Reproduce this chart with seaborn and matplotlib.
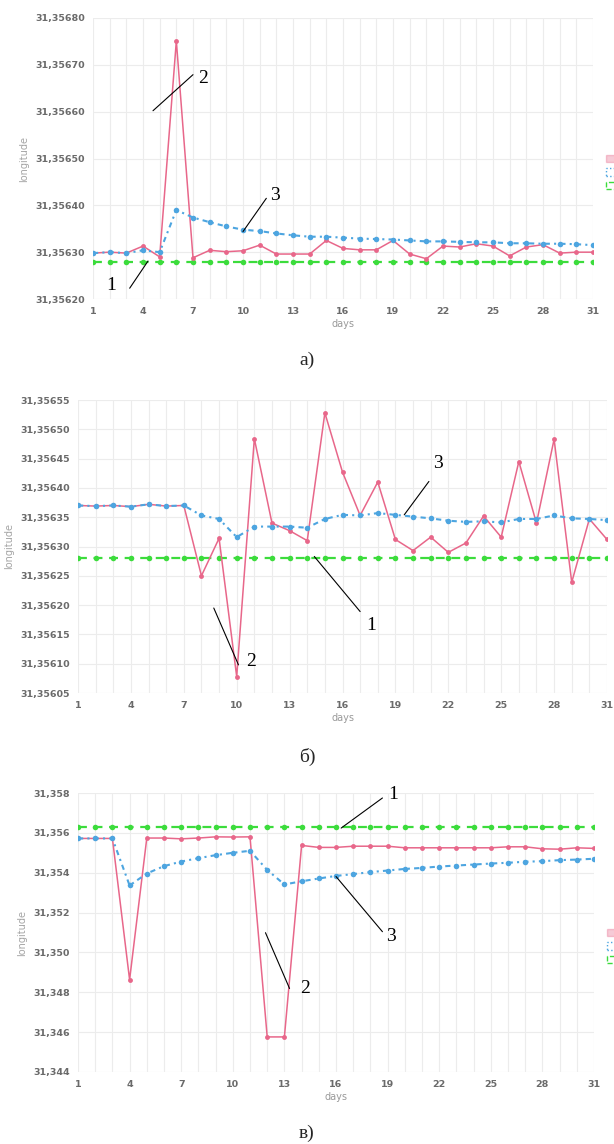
import matplotlib
matplotlib.use("Agg")
from matplotlib import pyplot as plt
from matplotlib.ticker import FuncFormatter
from matplotlib.patches import Patch
import numpy as np
import pandas as pd
import seaborn as sns

# ---- data ----
days = list(range(1, 32))

a_measured = [31.356298, 31.356300, 31.356298, 31.356313, 31.356290, 31.356751, 31.356288,
              31.356304, 31.356301, 31.356303, 31.356315, 31.356296, 31.356296, 31.356296,
              31.356325, 31.356308, 31.356305, 31.356305, 31.356325, 31.356296, 31.356286,
              31.356313, 31.356311, 31.356318, 31.356313, 31.356292, 31.356311, 31.356316,
              31.356298, 31.356300, 31.356300]
a_filtered = [31.356298, 31.356300, 31.356298, 31.356304, 31.356300, 31.356390, 31.356374,
              31.356364, 31.356355, 31.356348, 31.356345, 31.356340, 31.356336, 31.356333,
              31.356333, 31.356331, 31.356329, 31.356328, 31.356327, 31.356325, 31.356323,
              31.356323, 31.356322, 31.356321, 31.356321, 31.356319, 31.356319, 31.356318,
              31.356318, 31.356317, 31.356315]
a_reference = [31.356278] * 31

b_measured = [31.356370, 31.356369, 31.356370, 31.356368, 31.356372, 31.356369, 31.356370,
              31.356250, 31.356314, 31.356078, 31.356484, 31.356340, 31.356327, 31.356310,
              31.356528, 31.356427, 31.356353, 31.356410, 31.356312, 31.356293, 31.356316,
              31.356290, 31.356306, 31.356352, 31.356316, 31.356445, 31.356340, 31.356483,
              31.356239, 31.356347, 31.356312]
b_filtered = [31.356370, 31.356369, 31.356370, 31.356368, 31.356372, 31.356369, 31.356370,
              31.356353, 31.356347, 31.356316, 31.356334, 31.356334, 31.356334, 31.356332,
              31.356347, 31.356354, 31.356353, 31.356357, 31.356354, 31.356351, 31.356348,
              31.356344, 31.356342, 31.356343, 31.356341, 31.356347, 31.356347, 31.356353,
              31.356348, 31.356347, 31.356345]
b_reference = [31.356280] * 31

c_measured = [31.35572, 31.35572, 31.35572, 31.34863, 31.35574, 31.35574, 31.35570,
              31.35574, 31.35580, 31.35579, 31.35580, 31.34576, 31.34576, 31.35537,
              31.35527, 31.35527, 31.35533, 31.35533, 31.35533, 31.35525, 31.35525,
              31.35525, 31.35525, 31.35525, 31.35525, 31.35530, 31.35530, 31.35520,
              31.35518, 31.35525, 31.35522]
c_filtered = [31.35572, 31.35572, 31.35572, 31.35336, 31.35396, 31.35433, 31.35456,
              31.35473, 31.35488, 31.35500, 31.35510, 31.35414, 31.35341, 31.35357,
              31.35371, 31.35384, 31.35393, 31.35403, 31.35411, 31.35419, 31.35424,
              31.35431, 31.35436, 31.35441, 31.35446, 31.35450, 31.35455, 31.35458,
              31.35463, 31.35466, 31.35470]
c_reference = [31.35629] * 31

captions = ["а)", "б)", "в)"]
x_ticklabel_days = list(range(1, 32, 3))

# annotation number, text position (day, value), leader line start, leader line end
a_notes = [("2", (7.6, 31.356670), (7.0, 31.356679), (4.6, 31.356602)),
           ("3", (11.9, 31.356422), (11.4, 31.356415), (10.0, 31.356344)),
           ("1", (2.1, 31.356228), (3.2, 31.356223), (4.3, 31.356281))]
b_notes = [("3", (21.4, 31.356441), (20.9, 31.356411), (19.5, 31.356354)),
           ("1", (17.6, 31.356166), (17.0, 31.356189), (14.4, 31.356283)),
           ("2", (10.8, 31.356104), (10.1, 31.356098), (8.7, 31.356195))]
c_notes = [("1", (19.3, 31.35792), (18.7, 31.35775), (16.3, 31.35624)),
           ("3", (19.2, 31.35079), (18.7, 31.35104), (16.0, 31.35381)),
           ("2", (14.2, 31.34819), (13.3, 31.34819), (11.9, 31.35099))]

RED = "#e8678a"
BLUE = "#4da5e0"
GREEN = "#3cdc3c"


def comma_fmt(decimals):
    return FuncFormatter(lambda v, pos: f"{v:.{decimals}f}".replace(".", ","))


def draw_panel(ax, measured, filtered, reference, ylim, ystep, decimals, notes):
    df = pd.DataFrame({"days": days, "measured": measured,
                       "filtered": filtered, "reference": reference})
    sns.lineplot(data=df, x="days", y="reference", ax=ax, color=GREEN, lw=1.6,
                 linestyle=(0, (4, 3)), marker="o", markersize=4, markeredgewidth=0)
    sns.lineplot(data=df, x="days", y="measured", ax=ax, color=RED, lw=1.1,
                 marker="o", markersize=3.5, markeredgewidth=0)
    sns.lineplot(data=df, x="days", y="filtered", ax=ax, color=BLUE, lw=1.5,
                 linestyle=(0, (2.5, 2, 1, 2)), marker="o", markersize=4, markeredgewidth=0)

    ax.set_xlim(1, 31)
    ax.set_ylim(*ylim)
    ax.set_xticks(days)
    ax.set_xticklabels([str(d) if d in x_ticklabel_days else "" for d in days])
    ax.set_yticks(np.arange(ylim[0], ylim[1] + ystep / 2, ystep))
    ax.yaxis.set_major_formatter(comma_fmt(decimals))
    ax.tick_params(axis="both", length=3, color="#e6e6e6", labelsize=6.8,
                   labelcolor="#6a6a6a", pad=3)
    for lab in ax.get_xticklabels() + ax.get_yticklabels():
        lab.set_fontweight("bold")
    ax.grid(True, color="#ececec", lw=0.8)
    for s in ax.spines.values():
        s.set_visible(False)
    ax.set_xlabel("days", fontsize=7, color="#9a9a9a", labelpad=2)
    ax.set_ylabel("longitude", fontsize=7, color="#a5a5a5", labelpad=4)

    for label, txt_pos, start, end in notes:
        ax.annotate("", xy=end, xytext=start,
                    arrowprops=dict(arrowstyle="-", color="black", lw=0.8,
                                    shrinkA=0, shrinkB=0))
        ax.text(*txt_pos, label, fontsize=14, family="Liberation Serif",
                ha="center", va="center", color="black")

    # legend sits at the right edge; only the colour boxes show in the reference
    handles = [Patch(facecolor=RED, alpha=0.35, edgecolor=RED),
               Patch(facecolor="white", edgecolor=BLUE, linestyle=":"),
               Patch(facecolor="white", edgecolor=GREEN, linestyle="--")]
    ax.legend(handles, ["", "", ""], loc="center left",
              bbox_to_anchor=(1.008, 0.45), frameon=False, fontsize=7,
              handlelength=1.6, handleheight=0.8, labelspacing=0.35)


sns.set_style("white")
plt.rcParams["font.family"] = ["DejaVu Sans"]

fig = plt.figure(figsize=(6.14, 11.44), dpi=100)
ax_a = fig.add_axes([93 / 614, 1 - 299 / 1144, 500 / 614, 281 / 1144])
ax_b = fig.add_axes([78 / 614, 1 - 693 / 1144, 529 / 614, 293 / 1144])
ax_c = fig.add_axes([78 / 614, 1 - 1072 / 1144, 516 / 614, 279 / 1144])

draw_panel(ax_a, a_measured, a_filtered, a_reference, (31.3562, 31.3568), 0.0001, 5, a_notes)
draw_panel(ax_b, b_measured, b_filtered, b_reference, (31.35605, 31.35655), 0.00005, 5, b_notes)
draw_panel(ax_c, c_measured, c_filtered, c_reference, (31.344, 31.358), 0.002, 3, c_notes)

for cap, y in zip(captions, [360, 757, 1133]):
    fig.text(0.5, 1 - y / 1144, cap, fontsize=14, family="Liberation Serif",
             ha="center", va="center")

fig.savefig("out.png", dpi=100)
